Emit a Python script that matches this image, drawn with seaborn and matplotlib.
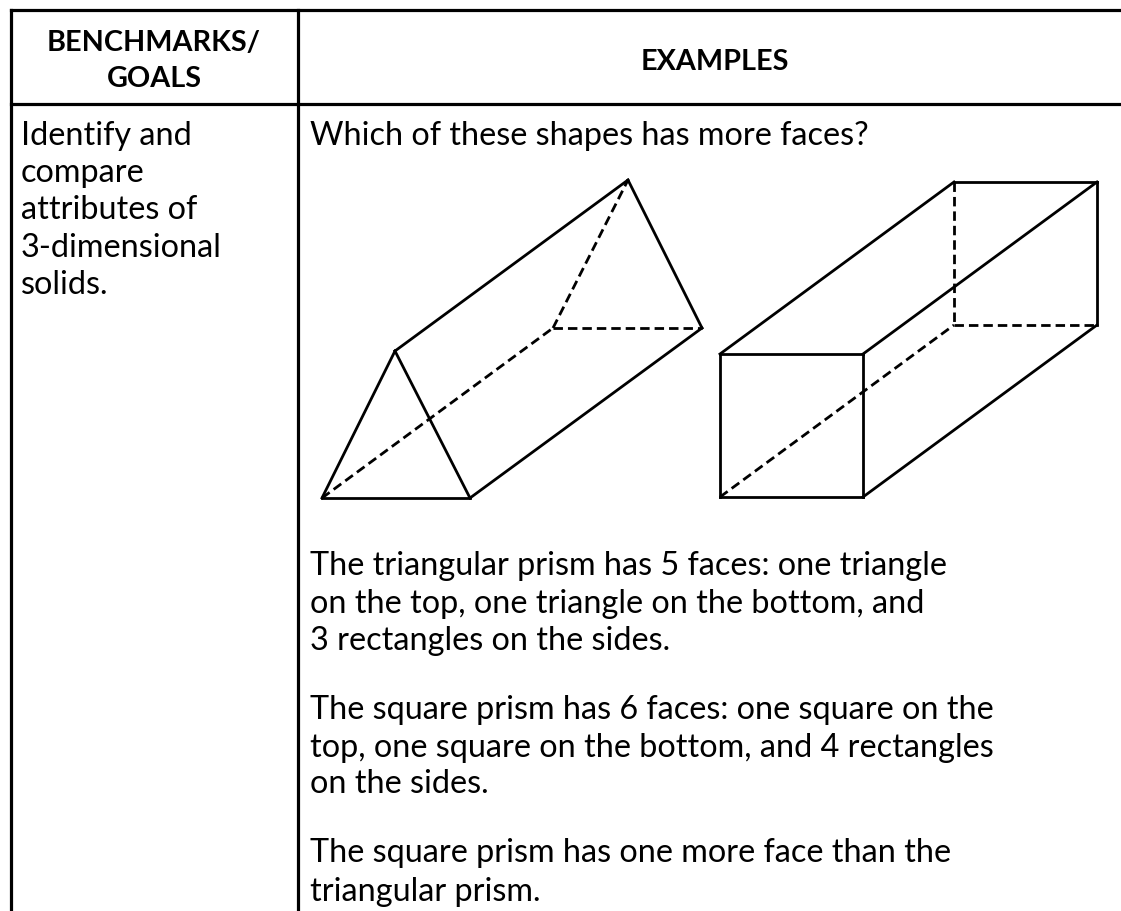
import matplotlib
matplotlib.use("Agg")
from matplotlib import pyplot as plt
import pandas as pd
import seaborn as sns

# edges as pairs of pixel positions
tri_solid_x = [[322, 395], [395, 470], [322, 470], [395, 628], [628, 702], [470, 702]]
tri_solid_y = [[499, 352], [352, 499], [499, 499], [352, 181], [181, 329], [499, 329]]
tri_dashed_x = [[322, 553], [553, 702], [553, 628]]
tri_dashed_y = [[499, 329], [329, 329], [329, 181]]

box_solid_x = [[720, 863], [863, 863], [863, 720], [720, 720], [720, 954], [954, 1097], [863, 1097], [1097, 1097], [863, 1097]]
box_solid_y = [[355, 355], [355, 498], [498, 498], [498, 355], [355, 183], [183, 183], [355, 183], [183, 326], [498, 326]]
box_dashed_x = [[954, 954], [954, 1097], [720, 954]]
box_dashed_y = [[183, 326], [326, 326], [498, 326]]

# table rules
rule_x = [[11, 1121], [11, 1121], [11, 11], [298, 298]]
rule_y = [[11, 11], [105, 105], [11, 912], [11, 912]]

header_left = ["BENCHMARKS/", "GOALS"]
header_right = "EXAMPLES"
goal_lines = ["Identify and", "compare", "attributes of", "3-dimensional", "solids."]
goal_base = [145, 182, 219, 257, 294]
example_lines = [
    "Which of these shapes has more faces?",
    "The triangular prism has 5 faces: one triangle",
    "on the top, one triangle on the bottom, and",
    "3 rectangles on the sides.",
    "The square prism has 6 faces: one square on the",
    "top, one square on the bottom, and 4 rectangles",
    "on the sides.",
    "The square prism has one more face than the",
    "triangular prism.",
]
example_base = [145, 575, 613, 650, 719, 757, 793, 862, 901]


def edges_frame(xs, ys):
    rows = []
    for i, (ex, ey) in enumerate(zip(xs, ys)):
        for px, py in zip(ex, ey):
            rows.append({"edge": i, "x": px, "y": py})
    return pd.DataFrame(rows)


def draw_edges(ax, xs, ys, lw, dashed=False):
    kw = {"linestyle": (0, (3.4, 1.8))} if dashed else {}
    sns.lineplot(
        data=edges_frame(xs, ys), x="x", y="y", units="edge", estimator=None, sort=False,
        color="black", linewidth=lw, ax=ax, legend=False, solid_capstyle="projecting",
        dash_capstyle="butt", **kw,
    )


sns.set_theme(style="white")
plt.rcParams["font.family"] = ["Lato", "DejaVu Sans"]

fig = plt.figure(figsize=(11.21, 9.12), dpi=100)
ax = fig.add_axes([0, 0, 1, 1])

draw_edges(ax, rule_x, rule_y, 2.3)
draw_edges(ax, tri_solid_x, tri_solid_y, 2.0)
draw_edges(ax, box_solid_x, box_solid_y, 2.0)
draw_edges(ax, tri_dashed_x, tri_dashed_y, 2.0, dashed=True)
draw_edges(ax, box_dashed_x, box_dashed_y, 2.0, dashed=True)

ax.set_xlim(0, 1121)
ax.set_ylim(912, 0)
ax.axis("off")

ax.text(154, 51, header_left[0], ha="center", va="baseline", fontsize=20.7, fontweight="bold", color="black")
ax.text(154, 87, header_left[1], ha="center", va="baseline", fontsize=20.7, fontweight="bold", color="black")
ax.text(715, 70, header_right, ha="center", va="baseline", fontsize=20.7, fontweight="bold", color="black")

for line, base in zip(goal_lines, goal_base):
    ax.text(21, base, line, ha="left", va="baseline", fontsize=23.3, color="black")
for line, base in zip(example_lines, example_base):
    ax.text(310, base, line, ha="left", va="baseline", fontsize=23.3, color="black")

fig.savefig("out.png", dpi=100)
plt.close(fig)
